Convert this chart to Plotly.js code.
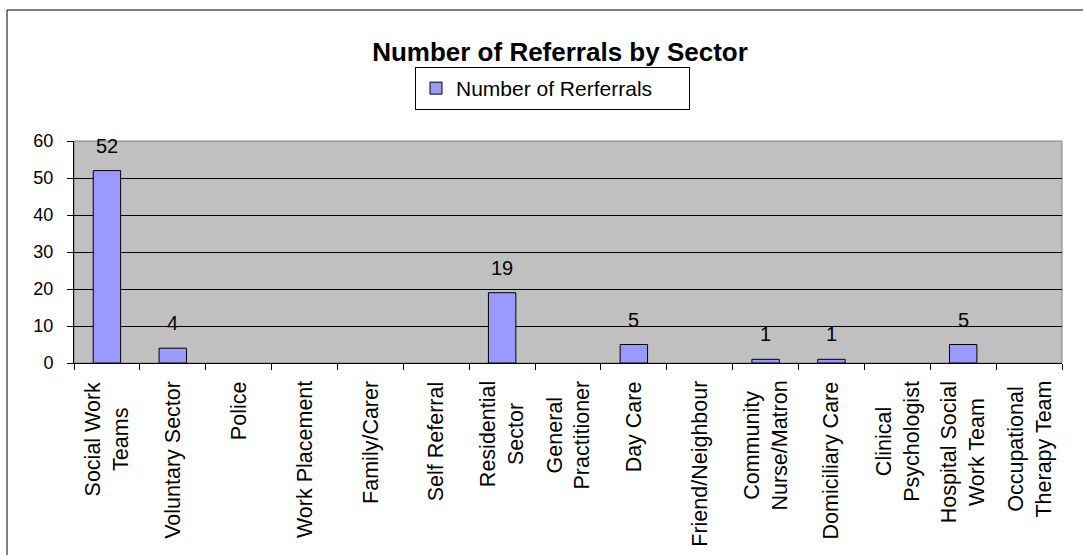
<!DOCTYPE html>
<html>
<head>
<meta charset="utf-8">
<script src="https://cdn.plot.ly/plotly-3.0.1.min.js"></script>
<style>html,body{margin:0;padding:0;background:#fff;}#chart{width:1083px;height:555px;}</style>
</head>
<body>
<div id="chart"></div>
<script>
const categories = [
  "Social Work Teams", "Voluntary Sector", "Police", "Work Placement", "Family/Carer",
  "Self Referral", "Residential Sector", "General Practitioner", "Day Care",
  "Friend/Neighbour", "Community Nurse/Matron", "Domiciliary Care",
  "Clinical Psychologist", "Hospital Social Work Team", "Occupational Therapy Team"
];
const tickLabels = [
  "Social Work<br>Teams", "Voluntary Sector", "Police", "Work Placement", "Family/Carer",
  "Self Referral", "Residential<br>Sector", "General<br>Practitioner", "Day Care",
  "Friend/Neighbour", "Community<br>Nurse/Matron", "Domiciliary Care",
  "Clinical<br>Psychologist", "Hospital Social<br>Work Team", "Occupational<br>Therapy Team"
];
const referrals = [52, 4, 0, 0, 0, 0, 19, 0, 5, 0, 1, 1, 0, 5, 0];
const yTicks = [0, 10, 20, 30, 40, 50, 60];
const seriesName = "Number of Rerferrals";
const chartTitle = "Number of Referrals by Sector";

const FONT = "Liberation Sans, Arial, sans-serif";
const L = 74, R = 21, T = 141, B = 192, W = 1083, H = 555;
const pw = W - L - R, ph = H - T - B;
const px = v => (v - L) / pw;
const py = v => (H - B - v) / ph;

const trace = {
  type: "bar",
  x: categories,
  y: referrals,
  name: seriesName,
  marker: {
    color: "#9999FF",
    line: { color: "#000000", width: referrals.map(v => v === 0 ? 0 : 1) }
  },
  hoverinfo: "x+y"
};

const valueLabels = categories.map((c, i) => referrals[i] === 0 ? null : {
  xref: "x", yref: "y", x: c, y: referrals[i],
  text: String(referrals[i]), showarrow: false,
  xanchor: "center", yanchor: "bottom", yshift: 12,
  font: { family: FONT, size: 20, color: "#000" }
}).filter(a => a);

const categoryLabels = categories.map((c, i) => ({
  xref: "x", yref: "paper", x: c, y: 0,
  text: tickLabels[i], showarrow: false, textangle: -90,
  xanchor: "center", yanchor: "top", yshift: -16, align: "center",
  font: { family: FONT, size: 21.5, color: "#000" }
}));

const layout = {
  width: W, height: H,
  margin: { l: L, r: R, t: T, b: B, pad: 0 },
  paper_bgcolor: "#ffffff",
  plot_bgcolor: "#C0C0C0",
  font: { family: FONT, size: 18, color: "#000" },
  title: {
    text: "<b>" + chartTitle + "</b>",
    font: { family: FONT, size: 26, color: "#000" },
    xref: "paper", x: px(560), xanchor: "center",
    yref: "container", y: 1 - 52 / H, yanchor: "middle"
  },
  showlegend: true,
  legend: {
    x: px(552.5), xanchor: "center",
    y: py(67), yanchor: "top",
    bgcolor: "#ffffff", bordercolor: "#000", borderwidth: 1,
    font: { family: FONT, size: 21, color: "#000" },
    orientation: "h",
    itemwidth: 30,
    entrywidth: 228
  },
  bargap: 0.584,
  xaxis: {
    type: "category",
    tickson: "boundaries",
    ticks: "outside", ticklen: 6, tickcolor: "#000", tickwidth: 1,
    showline: true, linecolor: "#000", linewidth: 1,
    showgrid: false,
    showticklabels: false,
    fixedrange: true
  },
  yaxis: {
    range: [0, 60],
    tickvals: yTicks,
    ticktext: yTicks.map(String),
    ticks: "outside", ticklen: 6, tickcolor: "#000", tickwidth: 1,
    ticklabelstandoff: 10,
    showline: true, linecolor: "#000", linewidth: 1,
    showgrid: true, gridcolor: "#000", gridwidth: 1,
    zeroline: false,
    tickfont: { family: FONT, size: 18, color: "#000" },
    fixedrange: true
  },
  annotations: valueLabels.concat(categoryLabels),
  shapes: [
    { type: "rect", xref: "paper", yref: "paper", x0: 0, x1: 1, y0: 0, y1: 1,
      line: { color: "#808080", width: 1 }, layer: "below" },
    { type: "rect", xref: "paper", yref: "paper",
      x0: px(7), x1: px(1090), y0: py(570), y1: py(10),
      line: { color: "#000", width: 1 }, fillcolor: "rgba(0,0,0,0)" }
  ]
};

Plotly.newPlot("chart", [trace], layout, { displayModeBar: false, staticPlot: true });
</script>
</body>
</html>
